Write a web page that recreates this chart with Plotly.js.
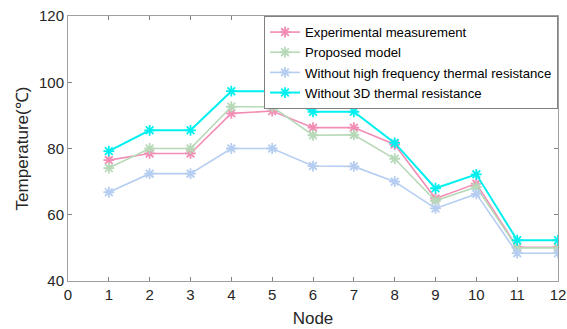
<!DOCTYPE html>
<html><head><meta charset="utf-8">
<script src="https://cdn.plot.ly/plotly-3.0.1.min.js"></script>
<style>html,body{margin:0;padding:0;background:#fff}</style>
</head><body><div id="chart" style="width:567px;height:329px"></div>
<script>
const nodes = [1,2,3,4,5,6,7,8,9,10,11,12];
const seriesNames = ["Experimental measurement","Proposed model","Without high frequency thermal resistance","Without 3D thermal resistance"];
const experimental = [76.5,78.5,78.5,90.6,91.3,86.3,86.3,81.2,64.9,69.4,50.2,50.2];
const proposed     = [74.1,80.0,80.0,92.6,92.6,84.0,84.1,76.9,64.2,68.4,50.0,50.0];
const withoutHF    = [66.8,72.4,72.4,80.0,80.0,74.7,74.6,70.0,61.9,66.3,48.4,48.4];
const without3D    = [79.2,85.5,85.5,97.3,97.3,91.1,91.1,81.7,68.0,72.2,52.3,52.3];
const xTicks = [0,1,2,3,4,5,6,7,8,9,10,11,12];
const yTicks = [40,60,80,100,120];

const colors = ["#f38db5","#b7d9b8","#b5cdf0","#00f0f0"];
const widths = [1.6,1.6,1.6,2];
const data = [experimental, proposed, withoutHF, without3D].map((y,i)=>({
  x: nodes, y: y, name: seriesNames[i], type:'scatter', mode:'lines+markers',
  line:{color:colors[i], width:widths[i]},
  marker:{symbol:'asterisk-open', size:9, color:colors[i], line:{color:colors[i], width:1.8}}
}));

const axisCommon = {
  showgrid:false, zeroline:false, showline:true, linecolor:'#a0a0a0', linewidth:1,
  mirror:'ticks', ticks:'inside', ticklen:4, tickcolor:'#808080',
  tickfont:{family:'Arial, Liberation Sans, sans-serif', size:15, color:'#262626'}
};
const layout = {
  width:567, height:329,
  margin:{l:68, r:9, t:16, b:48},
  paper_bgcolor:'#fff', plot_bgcolor:'#fff',
  showlegend:true,
  legend:{x:1, xanchor:'right', y:1, yanchor:'top', bgcolor:'#fff', bordercolor:'#808080', borderwidth:1,
    font:{family:'Arial, Liberation Sans, sans-serif', size:13.2, color:'#000'}, itemwidth:30, tracegroupgap:0},
  xaxis: Object.assign({}, axisCommon, {range:[0,12], tickvals:xTicks,
    title:{text:'Node', font:{family:'Arial, Liberation Sans, sans-serif', size:17, color:'#262626'}, standoff:10}}),
  yaxis: Object.assign({}, axisCommon, {range:[40,120], tickvals:yTicks,
    title:{text:'Temperature(℃)', font:{family:'Arial, Liberation Sans, sans-serif', size:17, color:'#262626'}, standoff:6}})
};
Plotly.newPlot('chart', data, layout, {displayModeBar:false, staticPlot:true});
</script></body></html>
